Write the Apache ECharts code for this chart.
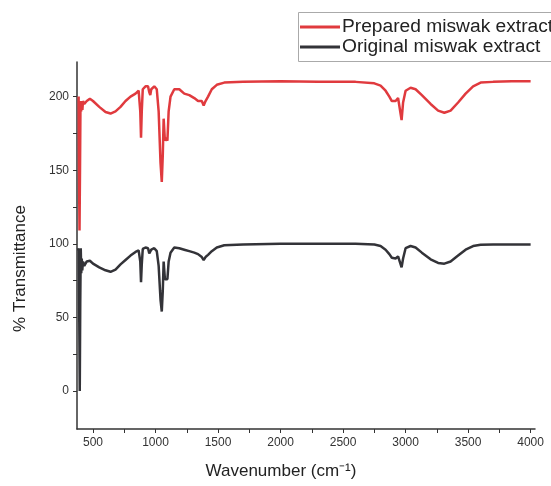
<!DOCTYPE html>
<html>
<head>
<meta charset="utf-8">
<script src="https://cdn.jsdelivr.net/npm/echarts@6/dist/echarts.min.js"></script>
<style>
  html, body {margin: 0; padding: 0; background: #fff;}
  #chart {width: 551px; height: 486px;}
</style>
</head>
<body>
<div id="chart"></div>
<script>
// spectra (wavenumber in cm-1, % transmittance)
var seriesNames = ['Prepared miswak extract', 'Original miswak extract'];
var seriesColors = ['#e03a3e', '#333338'];

var preparedWn = [385, 388, 392, 396, 400, 405, 410, 415, 420, 430, 450, 475, 500, 550, 600, 640, 680, 720, 760, 800, 840, 865, 878, 884, 890, 898, 920, 940, 950, 958, 966, 990, 1010, 1025, 1040, 1050, 1058, 1065, 1075, 1085, 1095, 1105, 1120, 1150, 1190, 1230, 1270, 1310, 1340, 1370, 1385, 1400, 1420, 1450, 1490, 1550, 1700, 2000, 2300, 2600, 2750, 2800, 2840, 2870, 2890, 2920, 2940, 2955, 2968, 2980, 3000, 3040, 3080, 3130, 3200, 3260, 3310, 3360, 3420, 3480, 3540, 3600, 3700, 3850, 4000];
var preparedT = [200, 150, 109, 150, 197, 190, 196, 191, 197, 195, 197, 198.5, 197, 193, 189.5, 188.5, 190, 193, 197, 200, 202, 204, 190, 172, 190, 205, 207, 207, 203, 201, 205, 207, 205, 190, 155, 142, 160, 185, 170, 172, 170, 190, 200, 205, 205, 202, 201, 199, 197, 197, 194, 197, 200, 205, 208, 209.5, 210, 210.5, 210, 210, 209, 207.5, 204, 200, 197, 197, 199, 198, 184, 196, 204, 206, 205, 201, 195, 190.5, 189, 190.5, 196, 202, 207, 209.5, 210, 210.5, 210.5];

var originalWn = [380, 386, 390, 394, 398, 402, 406, 410, 414, 420, 430, 450, 475, 500, 550, 600, 640, 680, 720, 760, 800, 840, 865, 878, 884, 890, 898, 920, 940, 950, 958, 966, 990, 1010, 1025, 1040, 1050, 1058, 1065, 1075, 1085, 1095, 1105, 1120, 1150, 1190, 1230, 1270, 1310, 1340, 1370, 1385, 1400, 1420, 1450, 1490, 1550, 1700, 2000, 2300, 2600, 2750, 2800, 2840, 2870, 2890, 2920, 2940, 2955, 2968, 2980, 3000, 3040, 3080, 3130, 3200, 3260, 3310, 3360, 3420, 3480, 3540, 3600, 3700, 3850, 4000];
var originalT = [97, 95, 50, 0, 60, 97, 80, 90, 82, 88, 85, 88, 88.5, 86.5, 84, 82, 81, 82.5, 86, 89, 92, 94.5, 95.5, 88, 74, 86, 96.5, 97.5, 97, 93.5, 92.5, 96, 97, 95, 85, 62, 54, 68, 88, 76, 77, 76, 88, 94, 97.5, 97, 96, 95, 94, 93, 91, 89, 91, 92.5, 95, 97.5, 99, 99.5, 100, 100, 100, 99.5, 98.5, 96, 93, 90.5, 90, 91.5, 91, 84, 90, 97, 98.5, 97.5, 94, 89.5, 87, 86.5, 88, 92, 96, 98.5, 99.3, 99.5, 99.5, 99.5];

var xTickLabels = [500, 1000, 1500, 2000, 2500, 3000, 3500, 4000];
var xTickMarks = [500, 750, 1000, 1250, 1500, 1750, 2000, 2250, 2500, 2750, 3000, 3250, 3500, 3750, 4000];
var yTickLabels = [0, 50, 100, 150, 200];
var yTickMarks = [0, 25, 50, 75, 100, 125, 150, 175, 200];

function pairs(xs, ys) {
    return xs.map(function (x, i) { return [x, ys[i]]; });
}

var chart = echarts.init(document.getElementById('chart'));

var axisColor = '#333';
var font = 'Liberation Sans, Arial, sans-serif';

// legend box drawn by hand so it can run off the right edge like the original
var legendItems = [{type: 'rect', shape: {x: 298.5, y: 12.5, width: 400, height: 49}, style: {fill: '#fff', stroke: '#aaa', lineWidth: 1}}];
seriesNames.forEach(function (name, i) {
    var y = 27 + i * 20;
    legendItems.push({type: 'line', shape: {x1: 300, y1: y, x2: 340, y2: y}, style: {stroke: seriesColors[i], lineWidth: 3}});
    legendItems.push({type: 'text', x: 342, y: y, style: {text: name, font: '19.2px ' + font, fill: '#222', verticalAlign: 'middle'}});
});

var option = {
    animation: false,
    textStyle: {fontFamily: font},
    grid: {left: 77, right: 16, top: 62, bottom: 57},
    graphic: legendItems,
    xAxis: {
        type: 'value', min: 372, max: 4035,
        name: 'Wavenumber (cm⁻¹)', nameLocation: 'middle', nameGap: 34,
        nameTextStyle: {fontSize: 17, color: '#222', padding: [0, 50, 0, 0]},
        axisLine: {onZero: false, lineStyle: {color: axisColor, width: 1.5}},
        axisTick: {customValues: xTickMarks, length: 4, lineStyle: {color: axisColor}},
        axisLabel: {customValues: xTickLabels, fontSize: 12, color: '#333', margin: 8, formatter: function (v) { return String(v); }},
        splitLine: {show: false}
    },
    yAxis: {
        type: 'value', min: -25.8, max: 223.5,
        name: '% Transmittance', nameLocation: 'middle', nameGap: 48,
        nameTextStyle: {fontSize: 17, color: '#222', padding: [0, 46, 0, 0]},
        axisLine: {show: true, onZero: false, lineStyle: {color: axisColor, width: 1.5}},
        axisTick: {show: true, customValues: yTickMarks, length: 4, lineStyle: {color: axisColor}},
        axisLabel: {customValues: yTickLabels, fontSize: 12, color: '#333', margin: 8, formatter: function (v) { return String(v); }},
        splitLine: {show: false}
    },
    series: [
        {
            name: seriesNames[0], type: 'line', showSymbol: false,
            data: pairs(preparedWn, preparedT),
            lineStyle: {color: seriesColors[0], width: 2.5}, itemStyle: {color: seriesColors[0]}
        },
        {
            name: seriesNames[1], type: 'line', showSymbol: false,
            data: pairs(originalWn, originalT),
            lineStyle: {color: seriesColors[1], width: 2.5}, itemStyle: {color: seriesColors[1]}
        }
    ]
};

chart.setOption(option);
</script>
</body>
</html>
